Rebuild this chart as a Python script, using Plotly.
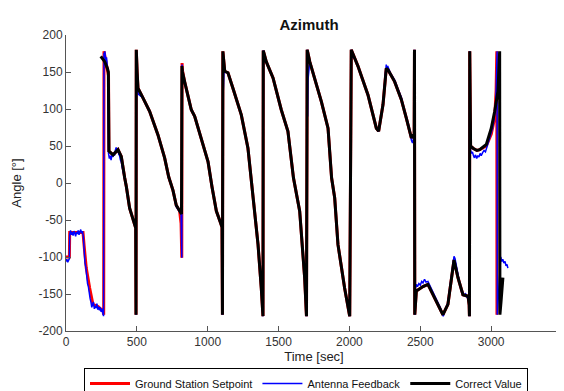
import plotly.graph_objects as go

# ---------------- data ----------------
setpoint_time = [
    0, 24, 26, 120, 128, 143, 167, 190, 226, 261, 266, 268, 276, 286, 296, 300, 303,
    332, 367, 390, 414, 426, 449, 480, 492, 494, 496, 502, 508, 543, 590, 649, 696, 725, 755, 778, 802,
    812, 817, 819, 822,
    837, 861, 884, 908, 978, 1002, 1030, 1061, 1091, 1101, 1104, 1107,
    1120, 1143, 1178, 1237, 1284, 1305, 1331, 1355, 1378, 1390, 1392,
    1413, 1461, 1508, 1519, 1566, 1605, 1649, 1684, 1697, 1702,
    1720, 1755, 1802, 1849, 1874, 1896, 1919, 1966, 2002, 2013,
    2037, 2060, 2131, 2190, 2206, 2237, 2260, 2272, 2319, 2366, 2401, 2437, 2452, 2457, 2459, 2461,
    2472, 2519, 2554, 2602, 2660, 2695, 2738, 2766, 2801, 2837, 2845, 2847, 2849,
    2855, 2872, 2900, 2919, 2966, 3001, 3025, 3035, 3040, 3041,
]
setpoint_angle = [
    -100, -100, -67, -67, -85, -115, -142, -164, -167, -173, -178, 178, 170, 160, 150, 145, 43,
    38, 45, 36, 7, -5, -34, -52, -61, -178, 180, 150, 128, 115, 97, 65, 34, 8, -10, -30, -38,
    -55, -101, 162, 152,
    137, 119, 99, 90, 47, 29, -5, -38, -54, -60, -178, 178,
    151, 149, 128, 92, 47, 7, -38, -83, -142, -180, 179,
    164, 142, 106, 99, 70, 7, -38, -128, -180, 180,
    164, 142, 110, 74, 7, -20, -83, -142, -180, 180,
    169, 158, 119, 74, 70, 106, 155, 153, 137, 113, 88, 61, 65, 62, 180, -178,
    -146, -140, -137, -155, -178, -164, -104, -128, -151, -153, -165, -180, 178,
    50, 47, 44, 45, 50, 66, 88, 125, 178, -178,
]

feedback_time = [
    0, 6, 12, 18, 24, 26, 32, 38, 44, 50, 56, 62, 68, 74, 80, 86, 92, 98, 104, 110, 116, 122,
    128, 134, 140, 146, 152, 158, 164, 170, 176, 182, 188, 194, 200, 206, 212, 218, 224, 230, 236, 242, 248, 254, 260, 265,
    268, 271, 274, 277, 280, 283, 286, 289, 292, 296,
    300, 306, 312, 318, 324, 330, 336, 342, 348, 354, 360, 366, 372, 378, 384, 390, 396, 402, 410, 420,
    449, 480, 492, 495, 497, 500, 504, 510, 543, 590, 649, 696, 725, 755, 778, 790, 802, 812, 817,
    819, 822, 837, 861, 884, 908, 978, 1002, 1030, 1061, 1091, 1101, 1104,
    1108, 1110, 1115, 1143, 1178, 1237, 1284, 1305, 1331, 1355, 1378, 1390,
    1393, 1413, 1461, 1508, 1566, 1605, 1649, 1684, 1697,
    1703, 1705, 1708, 1720, 1755, 1802, 1849, 1874, 1896, 1919, 1966, 2002,
    2013, 2020, 2037, 2060, 2131, 2190, 2206, 2237, 2255, 2260, 2266, 2272, 2290, 2319, 2340, 2366, 2380, 2401, 2420, 2437, 2445, 2452, 2457, 2459,
    2461, 2466, 2472, 2480, 2490, 2500, 2510, 2519, 2530, 2540, 2554, 2570, 2585, 2602, 2620, 2640, 2655, 2662, 2670, 2680, 2695,
    2710, 2725, 2738, 2745, 2752, 2766, 2780, 2790, 2801, 2810, 2820, 2830, 2837, 2845, 2847,
    2849, 2855, 2862, 2868, 2875, 2882, 2890, 2898, 2906, 2914, 2922, 2930, 2940, 2950, 2960, 2970, 2980, 2990, 3000, 3010, 3020, 3030, 3036, 3040, 3042,
    3043, 3055, 3062, 3068, 3075, 3082, 3090, 3098, 3105, 3112, 3118,
]
feedback_angle = [
    -106, -103, -107, -104, -102, -70, -64, -70, -66, -71, -65, -68, -72, -66, -69, -64, -70, -66, -63, -68, -65, -72,
    -95, -108, -114, -128, -136, -140, -151, -156, -161, -168, -164, -161, -170, -166, -169, -163, -171, -167, -172, -168, -174, -170, -176, -180,
    176, 170, 178, 168, 175, 162, 170, 156, 160, 148,
    40, 33, 37, 31, 38, 35, 41, 37, 44, 48, 42, 46, 39, 37, 31, 29, 22, 17, 10, 0,
    -34, -52, -61, -178, 178, 140, 128, 120, 115, 97, 65, 34, 8, -10, -32, -36, -40, -42, -101,
    160, 148, 137, 119, 99, 90, 47, 29, -5, -38, -54, -60, -178,
    176, 125, 150, 149, 128, 92, 47, 7, -38, -83, -142, -180,
    179, 164, 142, 106, 70, 7, -38, -128, -180,
    180, 90, 140, 164, 142, 110, 74, 7, -20, -83, -142, -180,
    180, 170, 169, 158, 119, 74, 70, 106, 150, 160, 156, 157, 148, 139, 128, 116, 104, 90, 76, 58, 54, 60, 60, 180,
    -178, -142, -137, -140, -136, -138, -133, -135, -130, -134, -133, -140, -146, -152, -160, -168, -176, -180, -174, -170, -162,
    -140, -118, -99, -102, -110, -126, -138, -146, -148, -152, -150, -155, -152, -164, -180,
    178, 44, 40, 42, 37, 34, 38, 33, 37, 35, 40, 37, 41, 44, 42, 48, 55, 60, 66, 74, 85, 100, 130, 160, 178,
    -178, -140, -104, -100, -106, -103, -108, -106, -112, -110, -115,
]

correct_time = [
    245, 273, 292, 299, 303, 332, 367, 390, 414, 426, 449, 480, 492, 494,
    496, 502, 508, 543, 590, 649, 696, 725, 755, 778, 802, 815,
    818, 822, 837, 861, 884, 908, 978, 1002, 1030, 1061, 1091, 1101, 1104,
    1107, 1120, 1143, 1178, 1237, 1284, 1305, 1331, 1355, 1378, 1390,
    1392, 1413, 1461, 1508, 1519, 1566, 1605, 1649, 1684, 1697,
    1702, 1720, 1755, 1802, 1849, 1874, 1896, 1919, 1966, 2002,
    2013, 2037, 2060, 2131, 2190, 2206, 2237, 2260, 2272, 2319, 2366, 2401, 2437, 2452, 2457, 2459,
    2461, 2472, 2519, 2554, 2602, 2660, 2695, 2738, 2766, 2801, 2837, 2845, 2847,
    2849, 2855, 2872, 2900, 2919, 2966, 3001, 3025, 3048, 3060, 3062, 3070, 3083,
]
correct_angle = [
    171, 164, 155, 150, 43, 38, 45, 36, 7, -5, -34, -52, -61, -178,
    180, 150, 128, 115, 97, 65, 34, 8, -10, -30, -38, -42,
    158, 150, 137, 119, 99, 90, 47, 29, -5, -38, -54, -60, -178,
    178, 151, 149, 128, 92, 47, 7, -38, -83, -142, -180,
    179, 164, 142, 106, 99, 70, 7, -38, -128, -180,
    180, 164, 142, 110, 74, 7, -20, -83, -142, -180,
    180, 169, 158, 119, 74, 70, 106, 155, 153, 137, 113, 88, 61, 65, 62, 180,
    -178, -146, -140, -137, -155, -178, -164, -104, -128, -151, -153, -165, -180,
    178, 50, 47, 44, 45, 52, 74, 97, 124, 178, -178, -160, -128,
]

y_tick_values = [-200, -150, -100, -50, 0, 50, 100, 150, 200]
y_tick_labels = ["-200", "-150", "-100", "-50", "0", "50", "100", "150", "200"]
x_tick_values = [0, 500, 1000, 1500, 2000, 2500, 3000, 3500]
x_tick_labels = ["0", "500", "1000", "1500", "2000", "2500", "3000", "3500"]

assert len(setpoint_time) == len(setpoint_angle), (len(setpoint_time), len(setpoint_angle))
assert len(feedback_time) == len(feedback_angle), (len(feedback_time), len(feedback_angle))
assert len(correct_time) == len(correct_angle), (len(correct_time), len(correct_angle))

# ---------------- figure ----------------
fig = go.Figure()
fig.add_trace(go.Scatter(x=setpoint_time, y=setpoint_angle, mode="lines",
                         name="Ground Station Setpoint",
                         line=dict(color="#ff0000", width=3)))
fig.add_trace(go.Scatter(x=feedback_time, y=feedback_angle, mode="lines",
                         name="Antenna Feedback",
                         line=dict(color="#0000ff", width=1.5)))
fig.add_trace(go.Scatter(x=correct_time, y=correct_angle, mode="lines",
                         name="Correct Value",
                         line=dict(color="#000000", width=3)))

axis_common = dict(showgrid=False, zeroline=False, showline=True, linecolor="#555555",
                   linewidth=1, ticks="inside", ticklen=5, tickcolor="#555555",
                   tickfont=dict(size=12, color="#333333"), mirror=False, automargin=False)

fig.update_xaxes(range=[0, 3500], tickvals=x_tick_values, ticktext=x_tick_labels,
                 title=dict(text="Time [sec]", font=dict(size=13, color="#222222"), standoff=0),
                 **axis_common)
fig.update_yaxes(range=[-200, 200], tickvals=y_tick_values, ticktext=y_tick_labels,
                 title=dict(text="Angle [°]", font=dict(size=13, color="#222222"), standoff=14),
                 **axis_common)

fig.update_layout(
    width=564, height=391,
    margin=dict(l=58, r=10, t=27, b=68),
    plot_bgcolor="white", paper_bgcolor="white",
    font=dict(family="Liberation Sans, Arial, sans-serif", size=11, color="#222222"),
    title=dict(text="<b>Azimuth</b>", x=0.49, xref="paper", xanchor="center",
               y=1 - 17 / 391, yref="container", yanchor="middle",
               font=dict(size=15, color="#111111")),
    showlegend=True,
    legend=dict(orientation="h", x=298 / 564, xanchor="center", xref="container",
                y=0.0, yanchor="bottom", yref="container",
                bordercolor="#000000", borderwidth=1, bgcolor="white",
                font=dict(size=11, color="#111111"),
                itemwidth=40),
)

fig.write_html("out.html")
